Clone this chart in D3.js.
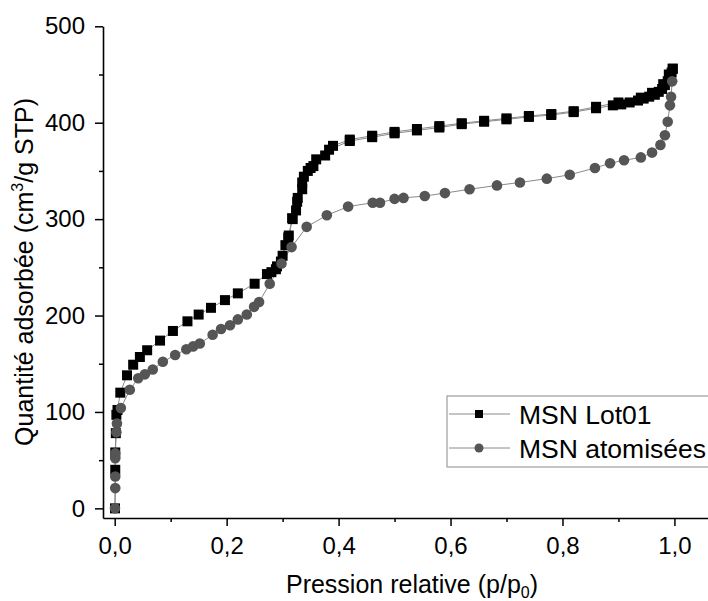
<!DOCTYPE html>
<html>
<head>
<meta charset="utf-8">
<script src="https://cdn.jsdelivr.net/npm/d3@7"></script>
<style>
  html, body { margin: 0; padding: 0; background: #fff; }
  svg { display: block; font-family: "Liberation Sans", Arial, sans-serif; }
</style>
</head>
<body>
<svg id="chart" width="708" height="601"></svg>
<script>
// ---- data ----
const xTicks = [0, 0.2, 0.4, 0.6, 0.8, 1.0];
const xMinorTicks = [0.1, 0.3, 0.5, 0.7, 0.9];
const xTickLabels = ["0,0", "0,2", "0,4", "0,6", "0,8", "1,0"];
const yTicks = [0, 100, 200, 300, 400, 500];
const yMinorTicks = [50, 150, 250, 350, 450];
const seriesNames = ["MSN Lot01", "MSN atomisées"];

// MSN Lot01 — adsorption branch [p/p0, quantity]
const lot01Ads = [
  [0.0005,0],[0.001,40],[0.001,58],[0.002,78],[0.003,97],[0.005,102],[0.010,120],
  [0.022,138],[0.033,149],[0.045,157],[0.058,164],[0.081,174],[0.104,184],[0.130,194],
  [0.150,201],[0.172,208],[0.197,216],[0.220,223],[0.250,233],[0.272,243],[0.288,248],
  [0.297,256],[0.305,273],[0.311,283],[0.317,301],[0.324,309],[0.327,322],[0.335,331],
  [0.338,344],[0.350,353],[0.355,355],[0.376,366],[0.383,372],[0.420,381],[0.460,385],
  [0.500,389],[0.540,392],[0.580,395],[0.620,398.5],[0.660,401],[0.700,403.5],[0.740,406],
  [0.780,408],[0.820,411],[0.860,415],[0.890,418],[0.905,419],[0.920,421],[0.935,423],
  [0.945,425],[0.955,427],[0.965,429],[0.972,432],[0.978,435],[0.983,439],[0.988,443],
  [0.992,447],[0.995,452],[0.997,456]
];
// MSN Lot01 — desorption branch
const lot01Des = [
  [0.997,456],[0.990,450],[0.980,440],[0.960,431],[0.940,426],[0.900,421],[0.860,416.5],
  [0.820,412],[0.780,409],[0.740,407],[0.700,404.5],[0.660,402],[0.620,399.5],
  [0.580,396.5],[0.540,393.5],[0.500,390.5],[0.460,386.5],[0.420,382.5],[0.390,376],[0.360,362],
  [0.345,350],[0.335,338],[0.326,318],[0.318,300],[0.310,281],[0.300,262],[0.290,251],
  [0.280,245]
];
// MSN atomisées — [p/p0, quantity]
const atomAds = [
  [0.0005,0],[0.001,21],[0.001,33],[0.001,52],[0.001,57],[0.003,79],[0.004,88],
  [0.011,104],[0.027,123],[0.042,135],[0.054,139],[0.068,144],[0.086,152],[0.108,159],
  [0.128,165],[0.140,168],[0.152,171],[0.175,180],[0.190,186],[0.206,190],[0.220,196],
  [0.236,201],[0.249,209],[0.258,214],[0.277,233],[0.298,254],[0.316,271],[0.343,292],
  [0.379,304],[0.417,313],[0.461,317],[0.474,317],[0.500,321],[0.516,322],[0.554,324],
  [0.590,327],[0.634,331],[0.683,335],[0.724,338],[0.772,342],[0.813,346],[0.858,353],
  [0.885,358],[0.910,361],[0.940,364],[0.960,369],[0.975,377],[0.983,387],[0.988,401],
  [0.992,418],[0.994,427],[0.996,443]
];

// ---- layout ----
const svg = d3.select("#chart");
const x = d3.scaleLinear().domain([-0.0209, 1.06]).range([103, 708]);
const y = d3.scaleLinear().domain([-10, 500]).range([518, 26.3]);

const lineColor = "#8a8a8a";
const circleColor = "#555555";

// lines
const line = d3.line().x(d => x(d[0])).y(d => y(d[1]));
[lot01Des, lot01Ads, atomAds].forEach(s => {
  svg.append("path").datum(s).attr("d", line)
    .attr("fill", "none").attr("stroke", lineColor).attr("stroke-width", 1);
});

// markers
const sq = d3.symbol().type(d3.symbolSquare).size(100);
svg.append("g").selectAll("path").data(lot01Ads.concat(lot01Des)).join("path")
  .attr("d", sq).attr("transform", d => `translate(${x(d[0])},${y(d[1])})`)
  .attr("fill", "#000");
svg.append("g").selectAll("circle").data(atomAds).join("circle")
  .attr("cx", d => x(d[0])).attr("cy", d => y(d[1])).attr("r", 5.3)
  .attr("fill", circleColor);

// axes
svg.append("g").attr("transform", "translate(0,518)")
  .call(d3.axisBottom(x).tickValues(xTicks).tickFormat((d, i) => xTickLabels[i])
    .tickSize(8).tickSizeOuter(0).tickPadding(11));
svg.append("g").attr("transform", "translate(0,518)")
  .call(d3.axisBottom(x).tickValues(xMinorTicks).tickFormat("").tickSize(4).tickSizeOuter(0))
  .select(".domain").remove();
svg.append("g").attr("transform", "translate(103,0)")
  .call(d3.axisLeft(y).tickValues(yTicks).tickSize(8).tickSizeOuter(0).tickPadding(10));
svg.append("g").attr("transform", "translate(103,0)")
  .call(d3.axisLeft(y).tickValues(yMinorTicks).tickFormat("").tickSize(4).tickSizeOuter(0))
  .select(".domain").remove();

svg.selectAll(".domain").attr("stroke", "#000").attr("stroke-width", 1.6);
svg.selectAll(".tick line").attr("stroke", "#000").attr("stroke-width", 1.5);
svg.selectAll(".tick text").attr("font-size", 24).attr("fill", "#000")
  .attr("font-family", "Liberation Sans, Arial, sans-serif");

// axis titles
const xt = svg.append("text").attr("x", 412).attr("y", 593).attr("text-anchor", "middle")
  .attr("font-size", 25).attr("fill", "#000");
xt.append("tspan").text("Pression relative (p/p");
xt.append("tspan").attr("font-size", 16).attr("dy", 5).text("0");
xt.append("tspan").attr("dy", -5).text(")");

const yt = svg.append("text").attr("transform", "translate(33,272) rotate(-90)")
  .attr("text-anchor", "middle").attr("font-size", 25).attr("fill", "#000");
yt.append("tspan").text("Quantité adsorbée (cm");
yt.append("tspan").attr("font-size", 16).attr("dy", -10).text("3");
yt.append("tspan").attr("dy", 10).text("/g STP)");

// legend
const lg = svg.append("g");
lg.append("rect").attr("x", 447).attr("y", 396).attr("width", 300).attr("height", 71)
  .attr("fill", "#fff").attr("stroke", "#8a8a8a").attr("stroke-width", 1);
const rows = [414, 448];
rows.forEach((ry, i) => {
  lg.append("line").attr("x1", 449).attr("x2", 510).attr("y1", ry).attr("y2", ry)
    .attr("stroke", lineColor).attr("stroke-width", 1);
  if (i === 0) {
    lg.append("path").attr("d", d3.symbol().type(d3.symbolSquare).size(64))
      .attr("transform", `translate(479,${ry})`).attr("fill", "#000");
  } else {
    lg.append("circle").attr("cx", 479).attr("cy", ry).attr("r", 4.5).attr("fill", circleColor);
  }
  lg.append("text").attr("x", 519).attr("y", ry + 9.5).attr("font-size", 26.5)
    .attr("fill", "#000").text(seriesNames[i]);
});
</script>
</body>
</html>
